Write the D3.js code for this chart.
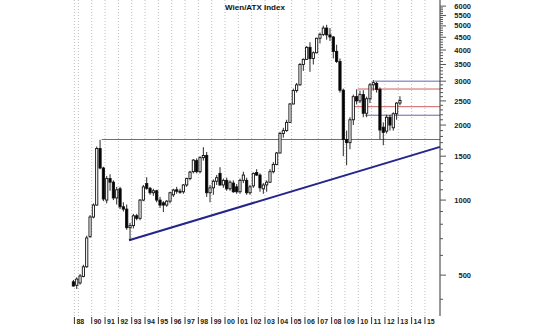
<!DOCTYPE html>
<html>
<head>
<meta charset="utf-8">
<script src="https://cdn.jsdelivr.net/npm/d3@7"></script>
<style>
body { margin: 0; background: #fff; }
svg { display: block; font-family: "Liberation Sans", Arial, sans-serif; }
</style>
</head>
<body>
<div id="chart"></div>
<script>
// ATX quarterly candles, first candle = 1988 Q3
const firstQuarterStart = 1988.5;
const opens  = [470,455,465,494,540,715,855,955,1610,1345,1000,1220,1180,1020,1110,940,920,775,790,865,845,1000,1165,1115,1070,1090,1000,975,955,990,1050,1100,1085,1080,1150,1220,1300,1440,1300,1480,1510,1070,1120,1190,1280,1150,1200,1110,1170,1130,1080,1200,1200,1070,1140,1290,1260,1110,1150,1180,1300,1390,1545,1850,1900,2050,2430,2750,2900,3500,3670,4100,3700,3900,4460,4620,4900,4600,4512,3950,3600,2760,1750,1700,2100,2600,2500,2650,2230,2550,2900,2940,2780,1960,1890,2150,1950,2220,2450];
const highs  = [478,490,505,550,720,870,970,1640,1745,1360,1250,1270,1200,1130,1130,980,960,810,880,880,1010,1150,1235,1130,1110,1100,1030,990,1000,1080,1110,1130,1110,1160,1230,1310,1460,1470,1500,1630,1560,1150,1210,1260,1355,1220,1230,1200,1200,1160,1220,1300,1230,1150,1290,1330,1280,1170,1200,1330,1420,1560,1880,1950,2100,2450,2800,2950,3550,3700,4150,4300,3950,4480,4700,5010,5050,4900,4550,4200,3700,2800,1900,2150,2650,2780,2750,2760,2600,2950,3030,2980,2830,2050,2200,2200,2250,2470,2610];
const lows   = [450,440,458,490,535,705,845,950,1330,990,970,1090,1000,960,920,900,760,690,770,830,830,990,1100,1050,1040,980,930,895,940,970,1030,1060,1060,1060,1130,1200,1280,1280,1280,1440,1030,980,1050,1150,1140,1120,1090,1090,1070,1060,1060,1170,1050,1050,1120,1250,1080,1060,1080,1170,1280,1380,1540,1780,1880,2040,2420,2700,2880,3300,3650,3270,3500,3880,4250,4550,4400,4350,3700,3550,2700,1500,1380,1600,2000,2420,2450,2150,2150,2450,2750,2700,1750,1660,1850,1900,1900,2100,2400];
const closes = [452,482,496,540,705,855,955,1610,1345,1010,1220,1180,1020,1100,940,920,775,790,865,845,1000,1130,1115,1070,1090,1000,955,955,990,1070,1097,1085,1075,1150,1220,1295,1447,1300,1480,1510,1070,1120,1190,1230,1150,1200,1110,1180,1080,1080,1200,1260,1070,1130,1280,1260,1120,1150,1180,1300,1390,1545,1850,1900,2050,2430,2750,2900,3500,3670,4100,3700,3900,4460,4620,4900,4600,4512,3950,3600,2760,1750,1700,2100,2600,2500,2650,2230,2550,2900,2960,2780,1910,1870,2150,2000,2220,2450,2510];

// x axis
const tickYears  = [1988.7,1990,1991,1992,1993,1994,1995,1996,1997,1998,1999,2000,2001,2002,2003,2004,2005,2006,2007,2008,2009,2010,2011,2012,2013,2014,2015];
const tickLabels = ["88","90","91","92","93","94","95","96","97","98","99","00","01","02","03","04","05","06","07","08","09","10","11","12","13","14","15"];
const gridYears  = [1988.7,1989,1990,1991,1992,1993,1994,1995,1996,1997,1998,1999,2000,2001,2002,2003,2004,2005,2006,2007,2008,2009,2010,2011,2012,2013,2014,2015];

// y axis
const labelValues = [500,1000,1500,2000,2500,3000,3500,4000,4500,5000,5500,6000];
const minorValues = d3.range(400, 6001, 100);

// drawn levels
const blueLevelStart = [1990.75, 2011.2, 2010.5];
const blueLevelValue = [1750, 3000, 2190];
const redLevelStart  = [2009.95, 2009.6];
const redLevelValue  = [2790, 2370];
const trendDates  = [1992.8, 2016.13];
const trendValues = [690, 1635];

const width = 540, height = 325;
const plotRight = 440, plotBottom = 316;

const svg = d3.select("#chart").append("svg")
    .attr("width", width)
    .attr("height", height);

const x = d3.scaleLinear().domain([1988.37, 2016.13]).range([70, plotRight]);
const y = d3.scaleLog().domain([342.7, 6350]).range([plotBottom, 0]);

// dotted year grid
svg.append("g").selectAll("line")
    .data(gridYears)
    .enter().append("line")
    .attr("x1", d => x(d)).attr("x2", d => x(d))
    .attr("y1", 0).attr("y2", plotBottom)
    .attr("stroke", "#bdbdbd")
    .attr("stroke-width", 1)
    .attr("stroke-dasharray", "1,2");

// title
svg.append("text")
    .attr("x", 255).attr("y", 10)
    .attr("text-anchor", "middle")
    .attr("font-size", "8px")
    .attr("font-weight", "bold")
    .attr("fill", "#111")
    .text("Wien/ATX Index");

// horizontal levels
svg.append("g").selectAll("line")
    .data(blueLevelValue)
    .enter().append("line")
    .attr("x1", (d, i) => x(blueLevelStart[i])).attr("x2", plotRight)
    .attr("y1", d => y(d)).attr("y2", d => y(d))
    .attr("stroke", "#6266b8").attr("stroke-width", 1);

svg.append("g").selectAll("line")
    .data(redLevelValue)
    .enter().append("line")
    .attr("x1", (d, i) => x(redLevelStart[i])).attr("x2", plotRight)
    .attr("y1", d => y(d)).attr("y2", d => y(d))
    .attr("stroke", "#cc6060").attr("stroke-width", 1);

// trend line
svg.append("path")
    .datum(trendDates.map((d, i) => [d, trendValues[i]]))
    .attr("d", d3.line().x(d => x(d[0])).y(d => y(d[1])))
    .attr("stroke", "#25258c")
    .attr("stroke-width", 2)
    .attr("fill", "none");

// candles
const candles = opens.map((o, i) => ({
    date: firstQuarterStart + (i + 0.5) / 4,
    open: o, high: highs[i], low: lows[i], close: closes[i]
}));

const candle = svg.append("g").selectAll("g")
    .data(candles)
    .enter().append("g");

candle.append("line")
    .attr("x1", d => x(d.date)).attr("x2", d => x(d.date))
    .attr("y1", d => y(d.high)).attr("y2", d => y(d.low))
    .attr("stroke", "#111").attr("stroke-width", 0.9);

candle.append("rect")
    .attr("x", d => x(d.date) - 1.1)
    .attr("width", 2.2)
    .attr("y", d => y(Math.max(d.open, d.close)))
    .attr("height", d => Math.max(1, Math.abs(y(d.open) - y(d.close))))
    .attr("fill", d => d.close >= d.open ? "#fff" : "#000")
    .attr("stroke", "#111")
    .attr("stroke-width", 0.9);

// right axis
svg.append("line")
    .attr("x1", plotRight).attr("x2", plotRight)
    .attr("y1", 0).attr("y2", plotBottom)
    .attr("stroke", "#333");

svg.append("g").selectAll("line")
    .data(minorValues)
    .enter().append("line")
    .attr("x1", plotRight).attr("x2", d => labelValues.includes(d) ? plotRight + 6 : plotRight + 3)
    .attr("y1", d => y(d)).attr("y2", d => y(d))
    .attr("stroke", "#555");

svg.append("g").selectAll("text")
    .data(labelValues)
    .enter().append("text")
    .attr("x", 471)
    .attr("y", d => y(d))
    .attr("dy", "0.35em")
    .attr("text-anchor", "end")
    .attr("font-size", "7.5px")
    .attr("font-weight", "bold")
    .attr("fill", "#222")
    .text(d => d);

// bottom year labels
const xt = svg.append("g").selectAll("g")
    .data(tickYears)
    .enter().append("g")
    .attr("transform", d => `translate(${x(d)},0)`);

xt.append("line")
    .attr("y1", plotBottom + 1).attr("y2", plotBottom + 8)
    .attr("stroke", "#333");

xt.append("text")
    .attr("x", 2)
    .attr("y", plotBottom + 8)
    .attr("font-size", "7px")
    .attr("font-weight", "bold")
    .attr("fill", "#222")
    .text((d, i) => tickLabels[i]);
</script>
</body>
</html>
